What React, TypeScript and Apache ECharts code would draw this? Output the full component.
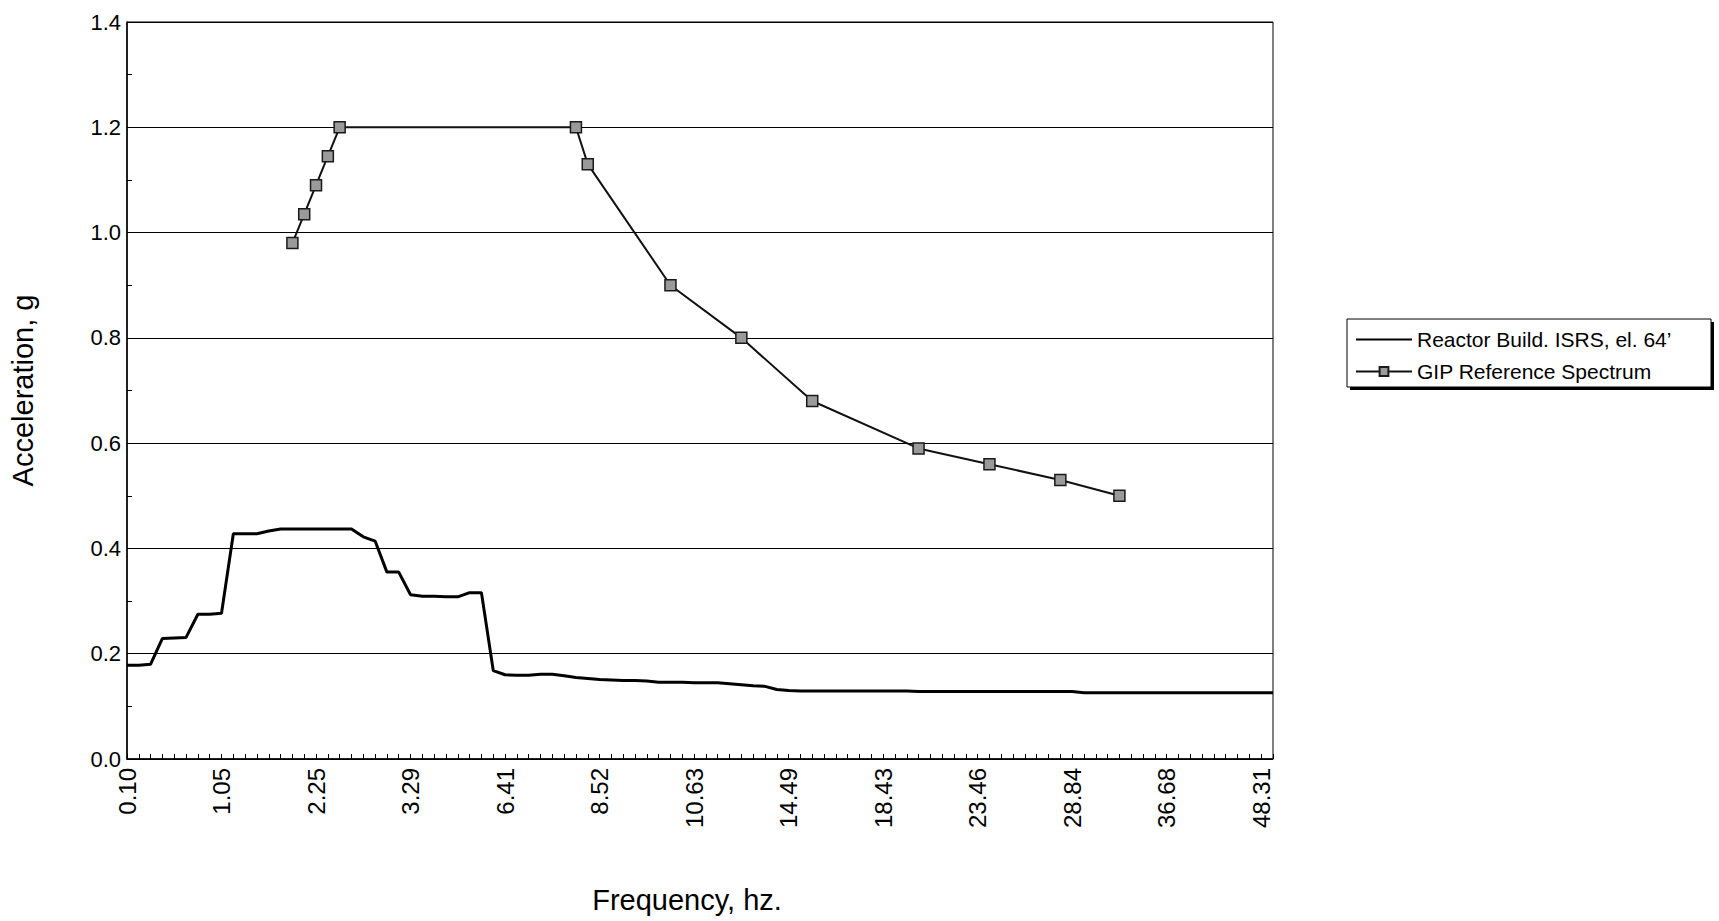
import React, { useEffect, useRef } from "react";
import * as echarts from "echarts";

// ---- Data ----
const tickLabels = ["0.10", "1.05", "2.25", "3.29", "6.41", "8.52", "10.63", "14.49", "18.43", "23.46", "28.84", "36.68", "48.31"];
const categoriesPerLabel = 8;
const categoryCount = 98;

const reactorValues = [
  0.178, 0.178, 0.180, 0.229, 0.230, 0.231, 0.275, 0.275, 0.277, 0.428,
  0.428, 0.428, 0.433, 0.437, 0.437, 0.437, 0.437, 0.437, 0.437, 0.437,
  0.422, 0.414, 0.355, 0.355, 0.312, 0.309, 0.309, 0.308, 0.308, 0.316,
  0.316, 0.168, 0.160, 0.159, 0.159, 0.161, 0.161, 0.158, 0.155, 0.153,
  0.151, 0.150, 0.149, 0.149, 0.148, 0.146, 0.146, 0.146, 0.145, 0.145,
  0.145, 0.143, 0.141, 0.139, 0.138, 0.132, 0.130, 0.129, 0.129, 0.129,
  0.129, 0.129, 0.129, 0.129, 0.129, 0.129, 0.129, 0.128, 0.128, 0.128,
  0.128, 0.128, 0.128, 0.128, 0.128, 0.128, 0.128, 0.128, 0.128, 0.128,
  0.128, 0.126, 0.126, 0.126, 0.126, 0.126, 0.126, 0.126, 0.126, 0.126,
  0.126, 0.126, 0.126, 0.126, 0.126, 0.126, 0.126, 0.126,
];

const gipIndices = [14, 15, 16, 17, 18, 38, 39, 46, 52, 58, 67, 73, 79, 84];
const gipValues = [0.98, 1.035, 1.09, 1.145, 1.2, 1.2, 1.13, 0.9, 0.8, 0.68, 0.59, 0.56, 0.53, 0.5];

const reactorName = "Reactor Build. ISRS, el. 64’";
const gipName = "GIP Reference Spectrum";

const FONT = "'Liberation Sans', Arial, Helvetica, sans-serif";

export default function App() {
  const ref = useRef<HTMLDivElement>(null);

  useEffect(() => {
    if (!ref.current) return;
    const chart = echarts.init(ref.current, undefined, { renderer: "svg" });

    const categories: string[] = [];
    for (let i = 0; i < categoryCount; i++) {
      categories.push(i % categoriesPerLabel === 0 ? tickLabels[i / categoriesPerLabel] ?? "" : "");
    }
    const gipSeries: (number | null)[] = categories.map(() => null);
    gipIndices.forEach((idx, k) => {
      gipSeries[idx] = gipValues[k];
    });

    const legendBox = { x: 1347, y: 319, w: 364, h: 68 };

    chart.setOption({
      animation: false,
      backgroundColor: "#fff",
      textStyle: { fontFamily: FONT, color: "#000" },
      grid: {
        left: 127,
        right: 446,
        top: 22,
        bottom: 162,
        show: true,
        borderColor: "#000",
        borderWidth: 1,
        backgroundColor: "transparent",
      },
      xAxis: {
        type: "category",
        data: categories,
        boundaryGap: false,
        name: "Frequency, hz.",
        nameLocation: "middle",
        nameGap: 126,
        nameTextStyle: { fontSize: 29, color: "#000", fontFamily: FONT, padding: [0, 26, 0, 0] },
        axisLine: { show: true, lineStyle: { color: "#000", width: 1.5 } },
        axisTick: { show: true, inside: true, interval: 0, length: 5, lineStyle: { color: "#000", width: 1 } },
        axisLabel: {
          interval: 0,
          rotate: 90,
          margin: 9,
          fontSize: 24,
          color: "#000",
          fontFamily: FONT,
        },
        splitLine: { show: false },
      },
      yAxis: {
        type: "value",
        min: 0,
        max: 1.4,
        interval: 0.2,
        name: "Acceleration, g",
        nameLocation: "middle",
        nameGap: 90,
        nameTextStyle: { fontSize: 29, color: "#000", fontFamily: FONT },
        axisLine: { show: true, lineStyle: { color: "#000", width: 1.5 } },
        axisTick: { show: true, inside: true, length: 5, lineStyle: { color: "#000" } },
        minorTick: { show: true, splitNumber: 2, length: 5, lineStyle: { color: "#000" } },
        axisLabel: {
          margin: 6,
          fontSize: 22,
          color: "#000",
          fontFamily: FONT,
          formatter: (v: number) => v.toFixed(1),
        },
        splitLine: { show: true, lineStyle: { color: "#000", width: 1 } },
      },
      legend: {
        orient: "vertical",
        left: 1355,
        top: 329,
        padding: 0,
        itemGap: 11,
        itemWidth: 56,
        itemHeight: 11,
        z: 10,
        textStyle: { fontSize: 21, color: "#000", fontFamily: FONT },
        data: [
          { name: reactorName, itemStyle: { opacity: 0 } },
          { name: gipName },
        ],
      },
      graphic: [
        {
          type: "rect",
          z: 5,
          shape: { x: legendBox.x + 3, y: legendBox.y + 3, width: legendBox.w, height: legendBox.h },
          style: { fill: "#000" },
        },
        {
          type: "rect",
          z: 6,
          shape: { x: legendBox.x, y: legendBox.y, width: legendBox.w, height: legendBox.h },
          style: { fill: "#fff", stroke: "#000", lineWidth: 1 },
        },
      ],
      series: [
        {
          name: reactorName,
          type: "line",
          data: reactorValues,
          symbol: "none",
          lineStyle: { color: "#000", width: 3 },
          itemStyle: { color: "#000" },
          z: 3,
        },
        {
          name: gipName,
          type: "line",
          data: gipSeries,
          connectNulls: true,
          symbol: "rect",
          symbolSize: 11,
          showAllSymbol: true,
          lineStyle: { color: "#111", width: 2 },
          itemStyle: { color: "#9a9a9a", borderColor: "#1a1a1a", borderWidth: 1.5 },
          z: 4,
        },
      ],
    });

    return () => {
      chart.dispose();
    };
  }, []);

  return (
    <div
      ref={ref}
      style={{ position: "absolute", left: 0, top: 0, width: "1719px", height: "921px", background: "#fff" }}
    />
  );
}
